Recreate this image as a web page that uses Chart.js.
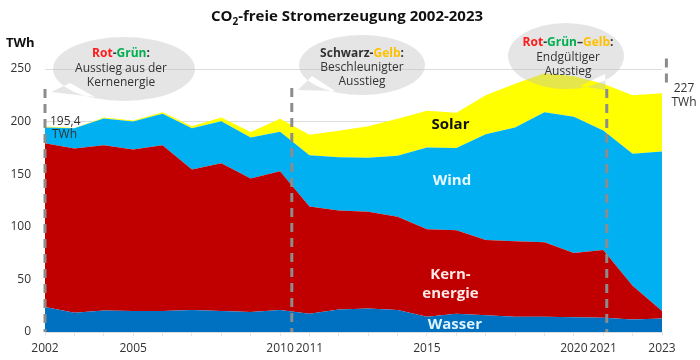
<!DOCTYPE html>
<html><head><meta charset="utf-8">
<script src="https://cdn.jsdelivr.net/npm/chart.js@4"></script>
<style>html,body{margin:0;padding:0;background:#fff}#wrap{width:700px;height:360px}</style>
</head><body><div id="wrap"><canvas id="c" width="700" height="360"></canvas></div>
<script>
const years = [2002,2003,2004,2005,2006,2007,2008,2009,2010,2011,2012,2013,2014,2015,2016,2017,2018,2019,2020,2021,2022,2023];
const hydro = [23.7,18.3,20.5,19.9,19.9,20.9,19.9,18.9,20.9,17.3,21.5,22.4,20.9,14.4,17.3,16.0,14.4,14.4,14.1,13.5,11.9,12.8];
const nuclear = [155.8,156.1,157.1,153.5,157.7,133.6,140.4,126.9,132.0,101.9,93.9,92.0,88.7,83.2,79.5,71.5,71.8,70.9,61.1,64.5,32.1,7.2];
const wind = [15.0,19.2,25.4,26.6,29.8,39.1,40.0,39.2,37.5,48.8,50.6,51.3,57.9,77.7,78.2,100.5,108.3,123.7,129.3,113.5,125.5,151.5];
const solar = [0.9,0.4,1.0,1.0,1.6,1.9,3.7,5.0,12.2,19.5,25.3,29.8,35.1,35.0,33.5,37.0,41.5,37.0,38.5,44.5,55.5,55.5];
const xTickLabels = [2002,2005,2010,2011,2015,2020,2021,2023];
const yTicks = [0,50,100,150,200,250];
const seriesNames = ['Wasser','Kernenergie','Wind','Solar'];
const seriesColors = ['#0070c0','#c00000','#00b0f0','#ffff00'];
const FONT = "'Open Sans', sans-serif";

function pts(arr){ return years.map((y,i)=>({x:y,y:arr[i]})); }
const seriesData = [hydro,nuclear,wind,solar];

const annot = {
  id:'annot',
  afterDatasetsDraw(chart){
    const ctx = chart.ctx, xs = chart.scales.x, ys = chart.scales.y;
    const X = v=>xs.getPixelForValue(v), Y = v=>ys.getPixelForValue(v);
    ctx.save();
    // dashed lines
    ctx.strokeStyle = '#8c8c8c'; ctx.lineWidth = 3; ctx.setLineDash([9,6]);
    const dl = [[2002,231,0],[2010.4,232,0],[2021.12,231,0]];
    dl.forEach(d=>{ctx.beginPath();ctx.moveTo(X(d[0]),Y(d[1]));ctx.lineTo(X(d[0]),Y(d[2]));ctx.stroke();});
    ctx.beginPath();ctx.moveTo(X(2023.15),Y(260));ctx.lineTo(X(2023.15),Y(236));ctx.stroke();
    ctx.setLineDash([]);
    // bubbles
    function bubble(cx,cy,rx,ry,base1,base2,tip){
      ctx.beginPath();
      ctx.ellipse(cx,cy,rx,ry,0,0,Math.PI*2);
      ctx.moveTo(base1[0],base1[1]);ctx.lineTo(tip[0],tip[1]);ctx.lineTo(base2[0],base2[1]);ctx.closePath();
      ctx.fillStyle='rgba(190,190,190,0.4)';
      ctx.fill('nonzero');
    }
    bubble(124,69,71,32,[70,83],[95,97],[51,92]);
    bubble(362,65,63,30,[312,76],[335,91],[298,90]);
    bubble(566,56,58,33,[580,86],[605,74],[606,90]);
    // bubble texts
    function rich(parts,cx,cy,font){
      ctx.font=font; let w=0; parts.forEach(p=>w+=ctx.measureText(p[0]).width);
      let x=cx-w/2; ctx.textAlign='left'; ctx.textBaseline='middle';
      parts.forEach(p=>{ctx.fillStyle=p[1];ctx.fillText(p[0],x,cy);x+=ctx.measureText(p[0]).width;});
    }
    const B='bold 12px '+FONT, R='12px '+FONT, T='#333';
    const RED='#ff1a1a', GRN='#00b050', YEL='#ffc000';
    rich([['Rot',RED],['-',T],['Grün',GRN],[':',T]],121,54,B);
    rich([['Ausstieg aus der',T]],121,69,R);
    rich([['Kernenergie',T]],121,83,R);
    rich([['Schwarz',T],['-',T],['Gelb',YEL],[':',T]],362,54,B);
    rich([['Beschleunigter',T]],362,68,R);
    rich([['Ausstieg',T]],362,82,R);
    rich([['Rot',RED],['-',T],['Grün',GRN],['–',T],['Gelb',YEL],[':',T]],568,43,B);
    rich([['Endgültiger',T]],568,58,R);
    rich([['Ausstieg',T]],568,72,R);
    // value labels
    ctx.font='12px '+FONT; ctx.fillStyle='#333'; ctx.textAlign='left'; ctx.textBaseline='middle';
    ctx.fillText('195,4',X(2002)+5,122); ctx.fillText('TWh',X(2002)+7,135);
    ctx.textAlign='center';
    ctx.fillText('227',684,89); ctx.fillText('TWh',684,103);
    // series labels
    ctx.font='bold 15px '+FONT; ctx.textAlign='center';
    ctx.fillStyle='#111'; ctx.fillText('Solar',X(2015.8),Y(197));
    ctx.fillStyle='#e8f8ff'; ctx.fillText('Wind',X(2015.85),Y(144));
    ctx.fillStyle='#ffe8e8'; ctx.fillText('Kern-',X(2015.8),Y(54)); ctx.fillText('energie',X(2015.8),Y(36.5));
    ctx.fillStyle='#dff3ff'; ctx.fillText('Wasser',X(2015.95),Y(6.5));
    // title + unit
    ctx.fillStyle='#111'; ctx.font='bold 15px '+FONT; ctx.textAlign='left';
    const t1='CO', t2='2', t3='-freie Stromerzeugung 2002-2023';
    const w1=ctx.measureText(t1).width, w3=ctx.measureText(t3).width;
    ctx.font='bold 10px '+FONT; const w2=ctx.measureText(t2).width;
    let tx=347-(w1+w2+w3)/2;
    ctx.font='bold 15px '+FONT; ctx.fillText(t1,tx,17);
    ctx.font='bold 10px '+FONT; ctx.fillText(t2,tx+w1,22);
    ctx.font='bold 15px '+FONT; ctx.fillText(t3,tx+w1+w2,17);
    ctx.font='bold 13px '+FONT; ctx.textAlign='left'; ctx.fillText('TWh',6,43);
    ctx.restore();
  }
};

new Chart(document.getElementById('c'),{
  type:'line',
  data:{datasets: seriesData.map((arr,i)=>({
    label:seriesNames[i], data:pts(arr), backgroundColor:seriesColors[i], borderColor:seriesColors[i],
    borderWidth:0, pointRadius:0, tension:0, fill: i===0?'origin':'-1'
  }))},
  options:{
    responsive:false, animation:false,
    layout:{padding:{top:69,right:38,left:0,bottom:0}},
    plugins:{legend:{display:false},tooltip:{enabled:false},title:{display:false}},
    scales:{
      x:{type:'linear',min:2002,max:2023,
        afterBuildTicks(s){ s.ticks = years.map(v=>({value:v})); },
        afterFit(s){ s.height=28; },
        ticks:{autoSkip:false,maxRotation:0,padding:5,color:'#333',font:{family:FONT,size:12},
          callback:v=> xTickLabels.includes(v)? String(v):''},
        grid:{drawOnChartArea:false,drawTicks:true,tickLength:4,color:'#e6e6e6'},
        border:{display:false}
      },
      y:{stacked:true,min:0,max:250,
        afterBuildTicks(s){ s.ticks = yTicks.map(v=>({value:v})); },
        afterFit(s){ s.width=45; },
        ticks:{padding:14,color:'#333',font:{family:FONT,size:12}},
        grid:{color:'#dcdcdc',drawTicks:false},
        border:{display:false}
      }
    }
  },
  plugins:[annot]
});
</script></body></html>
